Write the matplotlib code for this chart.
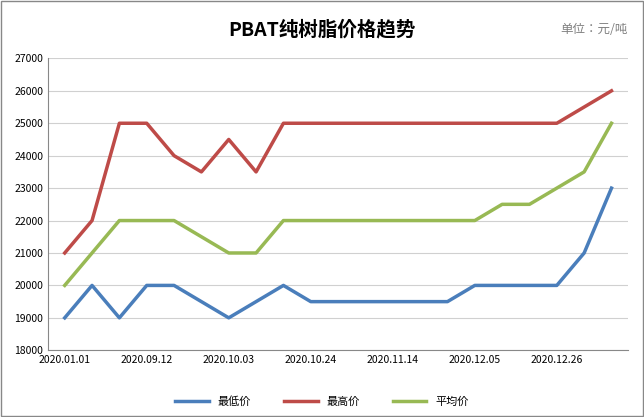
import matplotlib.pyplot as plt
from matplotlib import font_manager

names = {f.name for f in font_manager.fontManager.ttflist}
cjk = [n for n in ['Noto Sans CJK SC', 'Noto Sans CJK JP', 'Noto Sans CJK TC',
                   'Noto Sans CJK KR', 'Noto Sans SC'] if n in names]
cjk += [n for n in names if 'CJK' in n]
plt.rcParams['font.family'] = 'sans-serif'
plt.rcParams['font.sans-serif'] = cjk + ['DejaVu Sans']

dates = ['2020.01.01', '', '', '2020.09.12', '', '', '2020.10.03', '', '', '2020.10.24',
         '', '', '2020.11.14', '', '', '2020.12.05', '', '', '2020.12.26', '', '']
low = [19000, 20000, 19000, 20000, 20000, 19500, 19000, 19500, 20000, 19500, 19500,
       19500, 19500, 19500, 19500, 20000, 20000, 20000, 20000, 21000, 23000]
high = [21000, 22000, 25000, 25000, 24000, 23500, 24500, 23500, 25000, 25000, 25000,
        25000, 25000, 25000, 25000, 25000, 25000, 25000, 25000, 25500, 26000]
avg = [20000, 21000, 22000, 22000, 22000, 21500, 21000, 21000, 22000, 22000, 22000,
       22000, 22000, 22000, 22000, 22000, 22500, 22500, 23000, 23500, 25000]

fig = plt.figure(figsize=(6.44, 4.17), dpi=100)
fig.patches.append(plt.Rectangle((0.002, 0.002), 0.996, 0.996, transform=fig.transFigure,
                                 fill=False, edgecolor='#888888', lw=1))
ax = fig.add_axes([0.075, 0.16, 0.90, 0.70])
x = list(range(len(dates)))
ax.plot(x, low, color='#4A7EBB', lw=2.5, label='最低价')
ax.plot(x, high, color='#BE4B48', lw=2.5, label='最高价')
ax.plot(x, avg, color='#98B954', lw=2.5, label='平均价')

ax.set_ylim(18000, 27000)
ax.set_yticks(range(18000, 27001, 1000))
ax.set_xlim(-0.6, 20.6)
ax.set_xticks([i for i in x if dates[i]])
ax.set_xticklabels([d for d in dates if d], fontsize=7.5)
ax.tick_params(axis='y', labelsize=7.5, length=0)
ax.tick_params(axis='x', length=0)
ax.grid(axis='y', color='#d0d0d0', lw=0.8)
for s in ['top', 'right']:
    ax.spines[s].set_visible(False)
ax.spines['left'].set_color('#888888')
ax.spines['bottom'].set_color('#888888')

fig.text(0.5, 0.93, 'PBAT纯树脂价格趋势', ha='center', va='center', fontsize=14, fontweight='bold')
fig.text(0.975, 0.93, '单位：元/吨', ha='right', va='center', fontsize=9, color='#808080')
fig.legend(loc='lower center', ncol=3, frameon=False, fontsize=8, bbox_to_anchor=(0.5, 0.0),
           handlelength=3, columnspacing=3)
fig.savefig('out.png')
